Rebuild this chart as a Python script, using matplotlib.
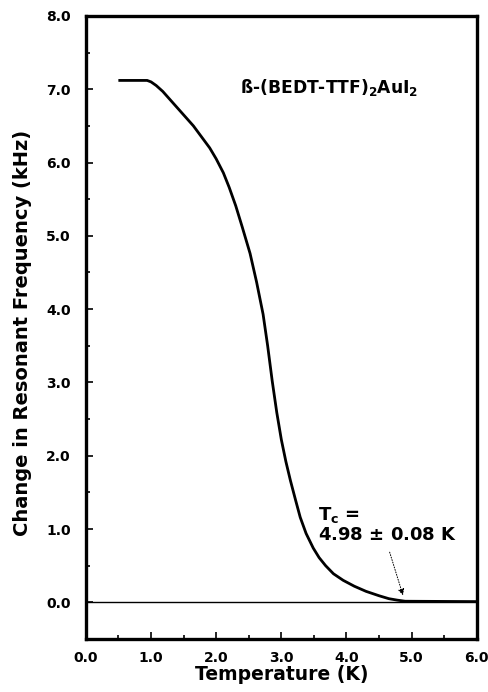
import numpy as np
import matplotlib.pyplot as plt
from matplotlib.ticker import MultipleLocator

plt.rcParams['font.family'] = ['DejaVu Sans']
plt.rcParams['font.weight'] = 'bold'

# curve: temperature (K) vs frequency change (kHz)
temp = [0.52, 0.94, 1.0, 1.08, 1.18, 1.4, 1.65, 1.9, 2.0, 2.11, 2.2, 2.3,
        2.4, 2.52, 2.62, 2.72, 2.79, 2.86, 2.93, 3.0, 3.07, 3.14, 3.22,
        3.29, 3.38, 3.49, 3.58, 3.68, 3.8, 3.95, 4.12, 4.3, 4.5, 4.65,
        4.78, 4.9, 6.0]
freq = [7.12, 7.12, 7.1, 7.05, 6.97, 6.75, 6.5, 6.2, 6.05, 5.86, 5.66, 5.41,
        5.12, 4.76, 4.37, 3.93, 3.5, 3.02, 2.59, 2.22, 1.92, 1.66, 1.39,
        1.16, 0.94, 0.74, 0.61, 0.5, 0.39, 0.3, 0.22, 0.15, 0.09, 0.05,
        0.03, 0.015, 0.01]

tc_label = "T$_\\mathregular{c}$ =\n4.98 $\\pm$ 0.08 K"
compound = "ß-(BEDT-TTF)$_\\mathregular{2}$AuI$_\\mathregular{2}$"

fig = plt.figure(figsize=(4.88, 6.92), dpi=100)
ax = fig.add_axes([0.176, 0.0766, 0.801, 0.9004])

ax.axhline(0.0, color="black", lw=1.0)
ax.plot(temp, freq, color="black", lw=2.0, solid_joinstyle="round")

ax.text(2.37, 7.03, compound, fontsize=12.3, fontweight="bold", va="center")
ax.text(3.57, 1.06, tc_label, fontsize=13, fontweight="bold", va="center",
        linespacing=1.1)
ax.annotate("", xy=(4.88, 0.06), xytext=(4.65, 0.72),
            arrowprops=dict(arrowstyle="-|>", color="black", lw=0.7,
                            linestyle=":", mutation_scale=9))

ax.set_xlim(0, 6)
ax.set_ylim(-0.5, 8.0)
ax.xaxis.set_major_locator(MultipleLocator(1))
ax.xaxis.set_minor_locator(MultipleLocator(0.5))
ax.yaxis.set_major_locator(MultipleLocator(1))
ax.yaxis.set_minor_locator(MultipleLocator(0.5))
ax.xaxis.set_major_formatter(plt.FormatStrFormatter("%.1f"))
ax.yaxis.set_major_formatter(plt.FormatStrFormatter("%.1f"))
ax.tick_params(which="both", direction="in", width=1.2, labelsize=10)
ax.tick_params(which="major", length=5)
ax.tick_params(which="minor", length=3)
ax.tick_params(axis="x", pad=8.5)
ax.tick_params(axis="y", pad=11)
for s in ax.spines.values():
    s.set_linewidth(2.4)

ax.set_xlabel("Temperature (K)", fontsize=13.5, fontweight="bold", labelpad=0)
ax.set_ylabel("Change in Resonant Frequency (kHz)", fontsize=14,
              fontweight="bold")
ax.yaxis.set_label_coords(-0.138, 0.491)

fig.savefig("out.png", dpi=100)
